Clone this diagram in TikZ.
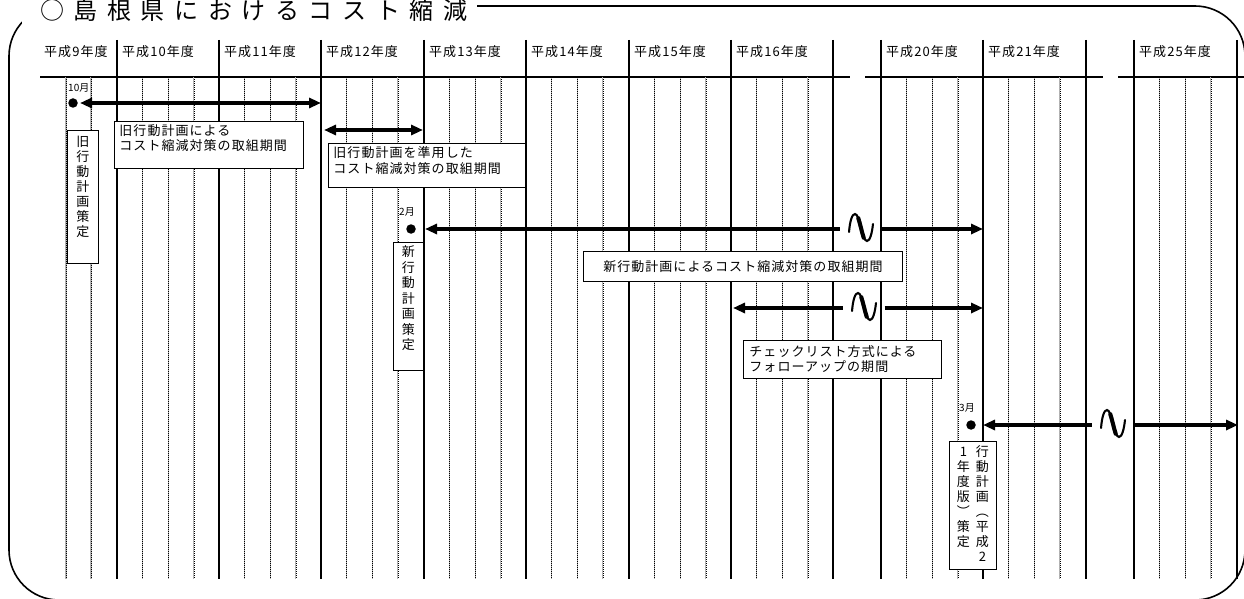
\documentclass[tikz,border=0pt]{standalone}
\usepackage{fontspec}
\setmainfont{Noto Sans CJK JP}
\usetikzlibrary{arrows.meta}
\begin{document}
\begin{tikzpicture}[x=1pt,y=-1pt,
  frame/.style={line width=1.6pt,rounded corners=50pt},
  yearline/.style={line width=1.5pt},
  qline/.style={draw=gray!60,line width=1.2pt,postaction={draw=black,line width=0.6pt,dash pattern=on 1pt off 1pt}},
  hline/.style={line width=1.5pt},
  hdr/.style={anchor=west,inner sep=0,font=\fontsize{13}{15}\selectfont\addfontfeature{LetterSpace=8}},
  mon/.style={anchor=west,inner sep=0,font=\fontsize{10}{11}\selectfont},
  dot/.style={circle,fill=black,inner sep=0,minimum size=9.5pt},
  txtbox/.style={draw,fill=white,line width=0.9pt,inner sep=0,anchor=north west,font=\fontsize{13}{15}\selectfont\addfontfeature{LetterSpace=8}},
  vbox/.style={draw,fill=white,line width=0.9pt,inner sep=0,anchor=north west,font=\fontsize{13}{15}\selectfont},
  period/.style={line width=3.4pt,-{Triangle[length=12pt,width=10pt]}},
  both/.style={line width=3.4pt,{Triangle[length=12pt,width=10pt]}-{Triangle[length=12pt,width=10pt]}},
  back/.style={line width=3.4pt,{Triangle[length=12pt,width=10pt]}-},
  wavy/.style={minimum width=41pt,minimum height=36pt,inner sep=0,
    path picture={
      \begin{scope}[shift={(path picture bounding box.center)},line cap=round]
        \begin{scope}[shift={(2.5,1.5)},draw=gray!55]
          \draw[line width=2pt] (-12,4) .. controls (-11,-7) and (-9,-14) .. (-6,-14) .. controls (-1,-14) and (1,13) .. (6,13) .. controls (9,13) and (11,5) .. (12,-4);
          \draw[line width=4pt] (-2.7,-9.8) .. controls (-0.8,-4) and (0.8,4) .. (2.7,9.8);
        \end{scope}
        \draw[line width=2pt] (-12,4) .. controls (-11,-7) and (-9,-14) .. (-6,-14) .. controls (-1,-14) and (1,13) .. (6,13) .. controls (9,13) and (11,5) .. (12,-4);
        \draw[line width=4pt] (-2.7,-9.8) .. controls (-0.8,-4) and (0.8,4) .. (2.7,9.8);
      \end{scope}
    }}
]
\useasboundingbox (0,0) rectangle (1244,599);

% frame
\draw[frame] (9,6) rectangle (1245,600);
\node[anchor=base west,fill=white,inner xsep=0,inner ysep=3pt,
      font=\fontsize{24}{28}\selectfont\addfontfeature{LetterSpace=40}] (title) at (22,20)
  {\hspace*{18pt}○島根県におけるコスト縮減\hspace*{10pt}};

% header horizontal line
\draw[hline] (40,77) -- (850,77);
\draw[hline] (865,77) -- (1103,77);
\draw[hline] (1118,77) -- (1244,77);

% year lines
\foreach \x in {117,219,321,424,526,629,731,833,881,983,1086,1134,1237}
  \draw[yearline] (\x,40) -- (\x,579);

% quarter lines
\foreach \x in {66,91}
  \draw[qline] (\x,77) -- (\x,579);
\foreach \s in {117,219,321,424,526,629,731,881,983,1134}
  \foreach \d in {25.6,51.2,76.8}
    \draw[qline] (\s+\d,77) -- (\s+\d,579);

% header labels
\node[hdr] (h9)  at (44,52)   {平成9年度};
\node[hdr] (h10) at (122,52)  {平成10年度};
\node[hdr] (h11) at (224,52)  {平成11年度};
\node[hdr] (h12) at (326,52)  {平成12年度};
\node[hdr] (h13) at (429,52)  {平成13年度};
\node[hdr] (h14) at (531,52)  {平成14年度};
\node[hdr] (h15) at (634,52)  {平成15年度};
\node[hdr] (h16) at (736,52)  {平成16年度};
\node[hdr] (h20) at (886,52)  {平成20年度};
\node[hdr] (h21) at (988,52)  {平成21年度};
\node[hdr] (h25) at (1139,52) {平成25年度};

% text boxes
\node[vbox] (v1) at (67,130) {\parbox[c][133pt][t]{31pt}{\centering\vspace*{5.6pt}旧\\行\\動\\計\\画\\策\\定}};
\node[txtbox] (b1) at (114,121) {\parbox[c][47pt][t]{189pt}{\raggedright\leftskip=5pt\vspace*{3.6pt}旧行動計画による\\コスト縮減対策の取組期間}};
\node[txtbox,font=\fontsize{13}{16}\selectfont\addfontfeature{LetterSpace=8}] (b2) at (328,143) {\parbox[c][44pt][t]{197pt}{\raggedright\leftskip=5pt\vspace*{2.6pt}旧行動計画を準用した\\コスト縮減対策の取組期間}};
\node[vbox,font=\fontsize{13}{15.5}\selectfont] (v2) at (393,242) {\parbox[c][128pt][t]{30pt}{\centering\vspace*{3.6pt}新\\行\\動\\計\\画\\策\\定}};
\node[txtbox,minimum width=319pt,minimum height=30pt] (b3) at (583,251) {新行動計画によるコスト縮減対策の取組期間};
\node[txtbox] (b4) at (743,340) {\parbox[c][38pt][t]{198pt}{\raggedright\leftskip=6pt\vspace*{4.6pt}チェックリスト方式による\\フォローアップの期間}};
\node[vbox] (v3) at (949,441) {\parbox[c][128pt][t]{47pt}{\centering\vspace*{4.6pt}\parbox[t]{13pt}{\centering 1\\年\\度\\版\\︶\\策\\定}\hspace{6pt}\parbox[t]{13pt}{\centering 行\\動\\計\\画\\︵\\平\\成\\2}}};

% month labels and dots
\node[mon] (m1) at (68,88) {10月};
\node[dot] (d1) at (73,103) {};
\node[mon] (m2) at (399,212) {2月};
\node[dot] (d2) at (411,229) {};
\node[mon] (m3) at (959,408) {3月};
\node[dot] (d3) at (971,425) {};

% wave marks
\node[wavy] (w1) at (861,228) {};
\node[wavy] (w2) at (864,307) {};
\node[wavy] (w3) at (1113,424) {};

% arrow ends
\coordinate (s1) at (80,103);
\coordinate (e1) at (321,103);
\coordinate (s2) at (324,130);
\coordinate (e2) at (423,130);
\coordinate (s3) at (425,229);
\coordinate (e3) at (983,229);
\coordinate (s4) at (733,308);
\coordinate (e4) at (983,308);
\coordinate (s5) at (983,425);
\coordinate (e5) at (1238,425);

% arrows
\draw[both] (s1) -- (e1);
\draw[both] (s2) -- (e2);
\draw[back] (s3) -- (w1.west |- s3);
\draw[period] (w1.east |- e3) -- (e3);
\draw[back] (s4) -- (w2.west |- s4);
\draw[period] (w2.east |- e4) -- (e4);
\draw[back] (s5) -- (w3.west |- s5);
\draw[period] (w3.east |- e5) -- (e5);
\end{tikzpicture}
\end{document}
